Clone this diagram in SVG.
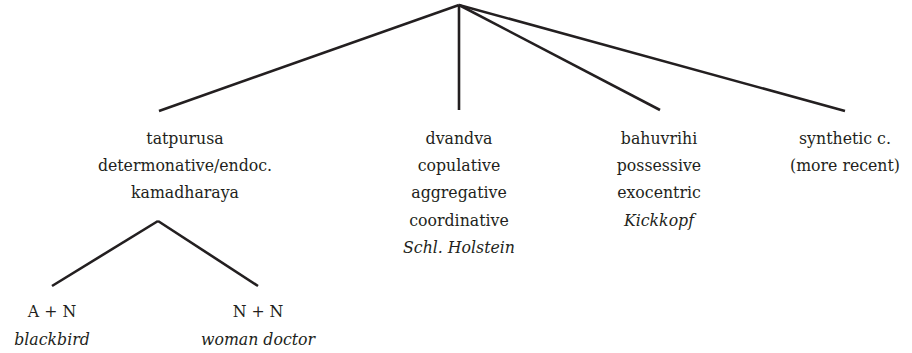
<svg xmlns="http://www.w3.org/2000/svg" width="912" height="353" viewBox="0 0 912 353">
<style>
.e{stroke:#231f20;stroke-width:2.6;fill:none;stroke-linecap:butt}
.t text{font-size:17.5px;fill:#231f20;text-anchor:middle;font-stretch:condensed}
.i{font-style:italic}
</style>
<rect width="912" height="353" fill="#fff"/>
<g id="connectors">
<line class="e" x1="459" y1="5" x2="159" y2="111"/>
<line class="e" x1="459" y1="5" x2="459" y2="110"/>
<line class="e" x1="459" y1="5" x2="660" y2="110"/>
<line class="e" x1="459" y1="5" x2="845" y2="111"/>
<line class="e" x1="158" y1="221" x2="52" y2="286"/>
<line class="e" x1="158" y1="221" x2="258" y2="286"/>
</g>
<g class="t" font-family="'DejaVu Serif Condensed', 'DejaVu Serif', serif">
<g id="tatpurusa">
<text x="185" y="144">tatpurusa</text>
<text x="185" y="171">determonative/endoc.</text>
<text x="185" y="198">kamadharaya</text>
</g>
<g id="dvandva">
<text x="459" y="144">dvandva</text>
<text x="459" y="171">copulative</text>
<text x="459" y="198">aggregative</text>
<text x="459" y="226">coordinative</text>
<text x="459" y="253" class="i">Schl. Holstein</text>
</g>
<g id="bahuvrihi">
<text x="659" y="144">bahuvrihi</text>
<text x="659" y="171">possessive</text>
<text x="659" y="198">exocentric</text>
<text x="659" y="226" class="i">Kickkopf</text>
</g>
<g id="synthetic">
<text x="845" y="144">synthetic c.</text>
<text x="845" y="171">(more recent)</text>
</g>
<g id="an">
<text x="52" y="317">A + N</text>
<text x="52" y="345" class="i">blackbird</text>
</g>
<g id="nn">
<text x="258" y="317">N + N</text>
<text x="258" y="345" class="i">woman doctor</text>
</g>
</g>
</svg>
